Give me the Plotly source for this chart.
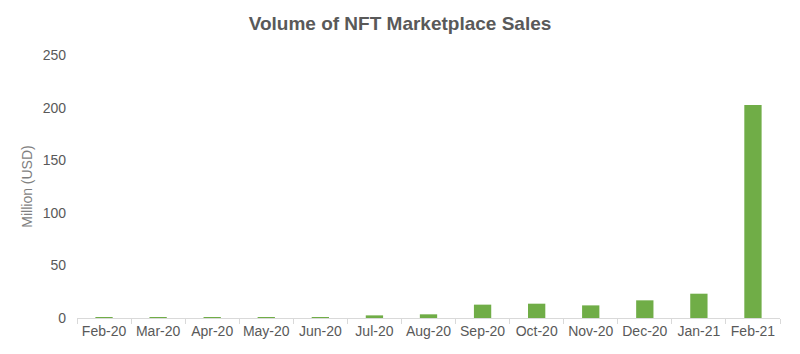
import plotly.graph_objects as go

months = ["Feb-20", "Mar-20", "Apr-20", "May-20", "Jun-20", "Jul-20", "Aug-20",
          "Sep-20", "Oct-20", "Nov-20", "Dec-20", "Jan-21", "Feb-21"]
sales_musd = [0.8, 0.8, 0.8, 0.8, 0.8, 2.5, 3.5, 12.7, 13.6, 12.0, 16.8, 23.1, 202.5]
y_ticks = [0, 50, 100, 150, 200, 250]

fig = go.Figure(go.Bar(x=months, y=sales_musd, marker_color="#70AD47",
                       marker_line_width=0, width=0.32))

fig.update_layout(
    width=800, height=354,
    margin=dict(l=77, r=20, t=55, b=36),
    paper_bgcolor="white", plot_bgcolor="white",
    font=dict(family="Liberation Sans, Arial, sans-serif", color="#595959", size=14),
    title=dict(text="<b>Volume of NFT Marketplace Sales</b>", x=0.5, xanchor="center",
               y=0.935, yanchor="middle",
               font=dict(size=19, color="#595959")),
    showlegend=False,
)
fig.update_xaxes(showline=True, linecolor="#d9d9d9", linewidth=1,
                 ticks="outside", tickson="boundaries", ticklen=5, tickcolor="#d9d9d9",
                 tickangle=0, automargin=False,
                 showgrid=False, tickfont=dict(size=14, color="#595959"))
fig.update_yaxes(range=[0, 250], tickvals=y_ticks, showgrid=False, zeroline=False,
                 showline=False, ticklabelstandoff=10, automargin=False,
                 tickfont=dict(size=14, color="#595959"),
                 title=dict(text="Million (USD)", font=dict(size=14, color="#7f7f7f"), standoff=6))

fig.write_html("out.html")
